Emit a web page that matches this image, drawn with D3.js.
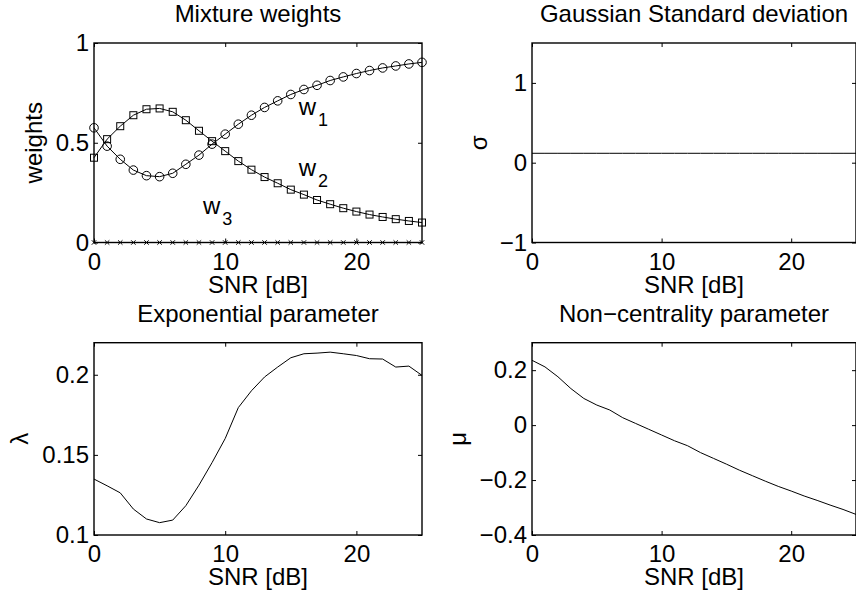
<!DOCTYPE html>
<html lang="en">

<head>
    <meta charset="UTF-8">
    <title>Mixture parameters vs SNR</title>
    <script src="https://d3js.org/d3.v7.min.js"></script>
    <style>
        body {
            margin: 0;
            background: #fff;
        }

        svg {
            display: block;
            background: #fff;
        }

        text {
            font-family: Arial, "Liberation Sans", Helvetica, sans-serif;
            font-size: 24px;
            fill: #000;
        }
    </style>
</head>

<body>
    <svg width="856" height="596"></svg>

    <script>
        // SNR axis values (dB)
        const snr = [0, 1, 2, 3, 4, 5, 6, 7, 8, 9, 10, 11, 12, 13, 14, 15, 16, 17, 18, 19, 20, 21, 22, 23, 24, 25];

        // mixture weights
        const w1 = [0.575, 0.483, 0.417, 0.363, 0.335, 0.330, 0.347, 0.392, 0.438, 0.493, 0.543, 0.593, 0.638,
            0.677, 0.710, 0.742, 0.767, 0.788, 0.812, 0.830, 0.847, 0.862, 0.875, 0.885, 0.895, 0.903];
        const w2 = [0.425, 0.518, 0.583, 0.638, 0.668, 0.672, 0.655, 0.613, 0.560, 0.508, 0.458, 0.408, 0.365,
            0.328, 0.297, 0.265, 0.240, 0.213, 0.192, 0.172, 0.155, 0.140, 0.128, 0.117, 0.108, 0.100];
        const w3 = [0, 0, 0, 0, 0, 0, 0, 0, 0, 0, 0, 0, 0, 0, 0, 0, 0, 0, 0, 0, 0, 0, 0, 0, 0, 0];

        // gaussian standard deviation
        const sigma = [0.118, 0.118, 0.118, 0.118, 0.118, 0.118, 0.118, 0.118, 0.118, 0.118, 0.118, 0.118, 0.118,
            0.118, 0.118, 0.118, 0.118, 0.118, 0.118, 0.118, 0.118, 0.118, 0.118, 0.118, 0.118, 0.118];

        // exponential parameter
        const lambda = [0.1349, 0.1307, 0.1263, 0.1162, 0.1100, 0.1077, 0.1093, 0.1183, 0.1311, 0.1452, 0.1602,
            0.1795, 0.1900, 0.1986, 0.2048, 0.2106, 0.2131, 0.2135, 0.2141, 0.2131, 0.2120, 0.2100, 0.2098,
            0.2048, 0.2054, 0.1996];

        // non-centrality parameter
        const mu = [0.236, 0.212, 0.176, 0.133, 0.097, 0.073, 0.055, 0.027, 0.006, -0.015, -0.036, -0.057, -0.075,
            -0.100, -0.121, -0.142, -0.164, -0.184, -0.204, -0.223, -0.240, -0.258, -0.274, -0.291, -0.307, -0.325];

        // ticks
        const xTicks = [0, 10, 20];
        const wTicks = [0, 0.5, 1];
        const sigmaTicks = [-1, 0, 1];
        const lambdaTicks = [0.1, 0.15, 0.2];
        const muTicks = [-0.4, -0.2, 0, 0.2];

        const titles = ["Mixture weights", "Gaussian Standard deviation", "Exponential parameter", "Non\u2212centrality parameter"];
        const yLabels = ["weights", "\u03c3", "\u03bb", "\u03bc"];
        const xLabel = "SNR [dB]";

        const svg = d3.select("svg");
        const fmt = d3.format("");

        function panel(o) {
            const x = d3.scaleLinear().domain([0, 25]).range([o.left, o.right]);
            const y = d3.scaleLinear().domain(o.yDomain).range([o.bottom, o.top]);
            const g = svg.append("g");

            // ticks on all four sides, pointing inward
            g.append("g").attr("transform", `translate(0,${o.bottom})`)
                .call(d3.axisBottom(x).tickValues(xTicks).tickSize(-4).tickSizeOuter(0).tickPadding(10).tickFormat(fmt));
            g.append("g").attr("transform", `translate(0,${o.top})`)
                .call(d3.axisTop(x).tickValues(xTicks).tickSize(-4).tickSizeOuter(0).tickFormat(""));
            g.append("g").attr("transform", `translate(${o.left},0)`)
                .call(d3.axisLeft(y).tickValues(o.yTicks).tickSize(-4).tickSizeOuter(0).tickPadding(5).tickFormat(fmt));
            g.append("g").attr("transform", `translate(${o.right},0)`)
                .call(d3.axisRight(y).tickValues(o.yTicks).tickSize(-4).tickSizeOuter(0).tickFormat(""));

            g.selectAll(".domain").remove();
            g.selectAll(".tick line").attr("stroke", "#000").attr("stroke-width", 1);
            g.selectAll(".tick text").attr("font-size", null).attr("font-family", null).attr("fill", "#000");

            g.append("rect")
                .attr("x", o.left).attr("y", o.top)
                .attr("width", o.right - o.left).attr("height", o.bottom - o.top)
                .attr("fill", "none").attr("stroke", "#000").attr("stroke-width", 1.4);

            // title, axis labels
            g.append("text").attr("x", (o.left + o.right) / 2).attr("y", o.top - 21)
                .attr("text-anchor", "middle").text(o.title);
            g.append("text").attr("x", (o.left + o.right) / 2).attr("y", o.bottom + 50)
                .attr("text-anchor", "middle").text(xLabel);
            g.append("text")
                .attr("transform", `translate(${o.yLabelX},${(o.top + o.bottom) / 2}) rotate(-90)`)
                .attr("text-anchor", "middle").text(o.yLabel);

            return { g, x, y };
        }

        const line = (x, y, vals) => d3.line().x((d, i) => x(snr[i])).y(d => y(d))(vals);

        // top left: mixture weights
        const p1 = panel({
            left: 94, right: 422, top: 43, bottom: 242.5, yDomain: [0, 1], yTicks: wTicks,
            title: titles[0], yLabel: yLabels[0], yLabelX: 42
        });
        [w1, w2, w3].forEach(s => {
            p1.g.append("path").attr("d", line(p1.x, p1.y, s))
                .attr("fill", "none").attr("stroke", "#000").attr("stroke-width", 1);
        });
        p1.g.selectAll(".m1").data(w1).join("circle")
            .attr("cx", (d, i) => p1.x(snr[i])).attr("cy", d => p1.y(d)).attr("r", 4.3)
            .attr("fill", "none").attr("stroke", "#000");
        p1.g.selectAll(".m2").data(w2).join("rect")
            .attr("x", (d, i) => p1.x(snr[i]) - 3.5).attr("y", d => p1.y(d) - 3.5)
            .attr("width", 7).attr("height", 7)
            .attr("fill", "none").attr("stroke", "#000");
        p1.g.selectAll(".m3").data(w3).join("path")
            .attr("d", (d, i) => {
                const cx = p1.x(snr[i]), cy = p1.y(d), s = 2.2;
                return `M${cx - s},${cy - s}L${cx + s},${cy + s}M${cx - s},${cy + s}L${cx + s},${cy - s}`;
            })
            .attr("stroke", "#000").attr("stroke-width", 1);

        // w labels with subscripts
        [["w", "1", 15.6, 0.64], ["w", "2", 15.6, 0.335], ["w", "3", 8.3, 0.143]].forEach(([t, s, lx, ly]) => {
            const tx = p1.g.append("text").attr("x", p1.x(lx)).attr("y", p1.y(ly));
            tx.append("tspan").text(t);
            tx.append("tspan").attr("dx", 2).attr("dy", 11).attr("font-size", 18).text(s);
        });

        // top right: gaussian std
        const p2 = panel({
            left: 532, right: 856, top: 43, bottom: 242.5, yDomain: [-1, 1.5], yTicks: sigmaTicks,
            title: titles[1], yLabel: yLabels[1], yLabelX: 487
        });
        p2.g.append("path").attr("d", line(p2.x, p2.y, sigma))
            .attr("fill", "none").attr("stroke", "#000").attr("stroke-width", 1);

        // bottom left: exponential parameter
        const p3 = panel({
            left: 94, right: 422, top: 342.7, bottom: 535, yDomain: [0.1, 0.22], yTicks: lambdaTicks,
            title: titles[2], yLabel: yLabels[2], yLabelX: 28
        });
        p3.g.append("path").attr("d", line(p3.x, p3.y, lambda))
            .attr("fill", "none").attr("stroke", "#000").attr("stroke-width", 1);

        // bottom right: non-centrality parameter
        const p4 = panel({
            left: 532, right: 856, top: 342.7, bottom: 535, yDomain: [-0.4, 0.3], yTicks: muTicks,
            title: titles[3], yLabel: yLabels[3], yLabelX: 466
        });
        p4.g.append("path").attr("d", line(p4.x, p4.y, mu))
            .attr("fill", "none").attr("stroke", "#000").attr("stroke-width", 1);
    </script>
</body>

</html>
